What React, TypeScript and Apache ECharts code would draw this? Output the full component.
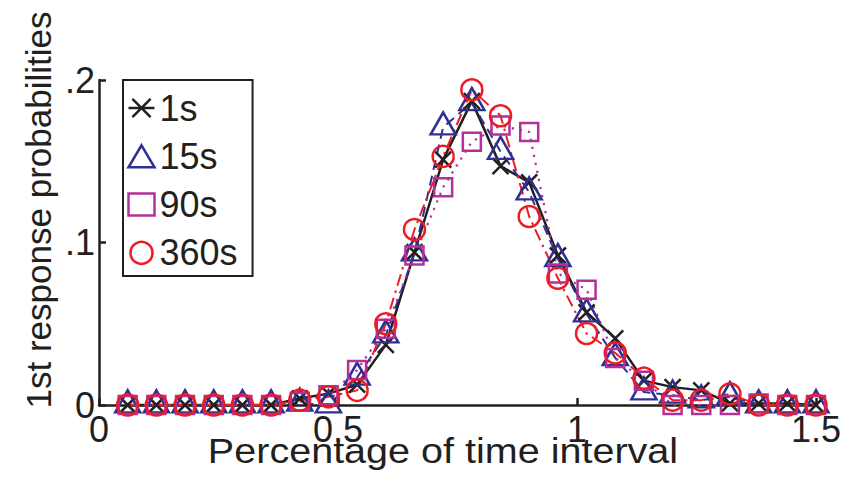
import React, { useEffect, useRef } from "react";
import * as echarts from "echarts";

// Fraction of the time interval at which each bin is sampled
const xValues = [
  0.06, 0.12, 0.18, 0.24, 0.3, 0.36, 0.42, 0.48, 0.54, 0.6, 0.66, 0.72, 0.78,
  0.84, 0.9, 0.96, 1.02, 1.08, 1.14, 1.2, 1.26, 1.32, 1.38, 1.44, 1.5,
];

// First-response probabilities per condition
const p1s = [
  0, 0, 0, 0, 0, 0, 0.004, 0.007, 0.0125, 0.037, 0.094, 0.151, 0.187, 0.147,
  0.137, 0.092, 0.057, 0.041, 0.015, 0.011, 0.009, 0.001, 0.001, 0.001, 0,
];
const p15s = [
  0, 0, 0, 0, 0, 0, 0.001, 0, 0.017, 0.043, 0.0935, 0.171, 0.186, 0.156,
  0.131, 0.09, 0.056, 0.029, 0.008, 0.006, 0.003, 0.005, 0, 0, 0,
];
const p90s = [
  0, 0, 0, 0, 0, 0, 0.002, 0.006, 0.0215, 0.047, 0.092, 0.134, 0.162, 0.172,
  0.168, 0.081, 0.071, 0.029, 0.015, 0, 0, 0, 0.001, 0, 0,
];
const p360s = [
  0, 0, 0, 0, 0, 0, 0.003, 0.005, 0.009, 0.05, 0.108, 0.153, 0.194, 0.178,
  0.116, 0.078, 0.044, 0.032, 0.0165, 0.003, 0.003, 0.0068, 0, 0, 0,
];

const seriesNames = ["1s", "15s", "90s", "360s"];
const xTicks = { min: 0, max: 1.5, interval: 0.5 };
const yTicks = { min: 0, max: 0.2, interval: 0.1 };

const INK = "#231f20";
const BLUE = "#2e3192";
const MAGENTA = "#b3309a";
const RED = "#ed1c24";
const FONT = "Liberation Sans, Arial, Helvetica, sans-serif";

const X_MARK = "path://M0,0L10,10M10,0L0,10";
const STAR_MARK = "path://M0,10L20,10M3,3L17,17M17,3L3,17";

const pairs = (ys: number[]) => xValues.map((x, i) => [x, ys[i]]);

export default function App() {
  const ref = useRef<HTMLDivElement>(null);

  useEffect(() => {
    if (!ref.current) return;
    const chart = echarts.init(ref.current, null, { renderer: "svg" });

    const hollow = (color: string, width = 2) => ({
      color: "none",
      borderColor: color,
      borderWidth: width,
    });

    chart.setOption({
      animation: false,
      backgroundColor: "#ffffff",
      grid: { left: 99, right: 43, top: 80, bottom: 85, containLabel: false },
      xAxis: {
        type: "value",
        ...xTicks,
        axisLine: { show: true, lineStyle: { color: INK, width: 2.5 } },
        axisTick: { show: true, inside: true, length: 7, lineStyle: { color: INK, width: 2.5 } },
        axisLabel: {
          color: INK,
          fontSize: 36,
          fontFamily: FONT,
          margin: 6,
        },
        splitLine: { show: false },
      },
      yAxis: {
        type: "value",
        ...yTicks,
        axisLine: { show: true, lineStyle: { color: INK, width: 2.5 } },
        axisTick: { show: true, inside: true, length: 7, lineStyle: { color: INK, width: 2.5 } },
        axisLabel: {
          color: INK,
          fontSize: 36,
          fontFamily: FONT,
          margin: 4,
          formatter: (v: number) => (v === 0 ? "0" : String(+v.toFixed(2)).replace(/^0/, "")),
        },
        splitLine: { show: false },
      },
      legend: {
        orient: "vertical",
        left: 123,
        top: 80,
        selectedMode: false,
        padding: [10, 15, 5, 3],
        itemGap: 12.3,
        itemWidth: 26,
        itemHeight: 22,
        symbolKeepAspect: true,
        borderColor: INK,
        borderWidth: 2,
        backgroundColor: "#ffffff",
        textStyle: { color: INK, fontSize: 36, lineHeight: 36, fontFamily: FONT },
        data: [
          { name: seriesNames[0], icon: STAR_MARK, itemStyle: hollow(INK, 2.5) },
          { name: seriesNames[1], icon: "triangle", itemStyle: hollow(BLUE, 2.5) },
          { name: seriesNames[2], icon: "rect", itemStyle: hollow(MAGENTA, 2.5) },
          { name: seriesNames[3], icon: "circle", itemStyle: hollow(RED, 2.5) },
        ],
      },
      series: [
        {
          name: seriesNames[0],
          type: "line",
          data: pairs(p1s),
          clip: false,
          symbol: X_MARK,
          symbolSize: 16,
          itemStyle: hollow(INK, 2.5),
          lineStyle: { color: INK, width: 2.5 },
        },
        {
          name: seriesNames[1],
          type: "line",
          data: pairs(p15s),
          clip: false,
          symbol: "triangle",
          symbolSize: [25, 22],
          symbolOffset: [0, -3.7],
          itemStyle: hollow(BLUE, 2.5),
          lineStyle: { color: BLUE, width: 2, type: [10, 6] },
        },
        {
          name: seriesNames[2],
          type: "line",
          data: pairs(p90s),
          clip: false,
          symbol: "rect",
          symbolSize: 18,
          itemStyle: hollow(MAGENTA, 2.5),
          lineStyle: { color: MAGENTA, width: 2.2, type: [2.2, 6] },
        },
        {
          name: seriesNames[3],
          type: "line",
          data: pairs(p360s),
          clip: false,
          symbol: "circle",
          symbolSize: 21,
          itemStyle: hollow(RED, 2.5),
          lineStyle: { color: RED, width: 2, type: [12, 5, 2.5, 5] },
        },
      ],
      graphic: [
        {
          type: "text",
          x: 443,
          y: 451,
          scaleX: 1.13,
          style: {
            text: "Percentage of time interval",
            textAlign: "center",
            textVerticalAlign: "middle",
            fill: INK,
            fontSize: 35,
            fontFamily: FONT,
          },
        },
        {
          type: "text",
          x: 38,
          y: 210,
          rotation: Math.PI / 2,
          style: {
            text: "1st response probabilities",
            textAlign: "center",
            textVerticalAlign: "middle",
            fill: INK,
            fontSize: 35,
            fontFamily: FONT,
          },
        },
      ],
    });

    return () => chart.dispose();
  }, []);

  return <div ref={ref} style={{ width: 859, height: 490, position: "absolute", left: 0, top: 0 }} />;
}
